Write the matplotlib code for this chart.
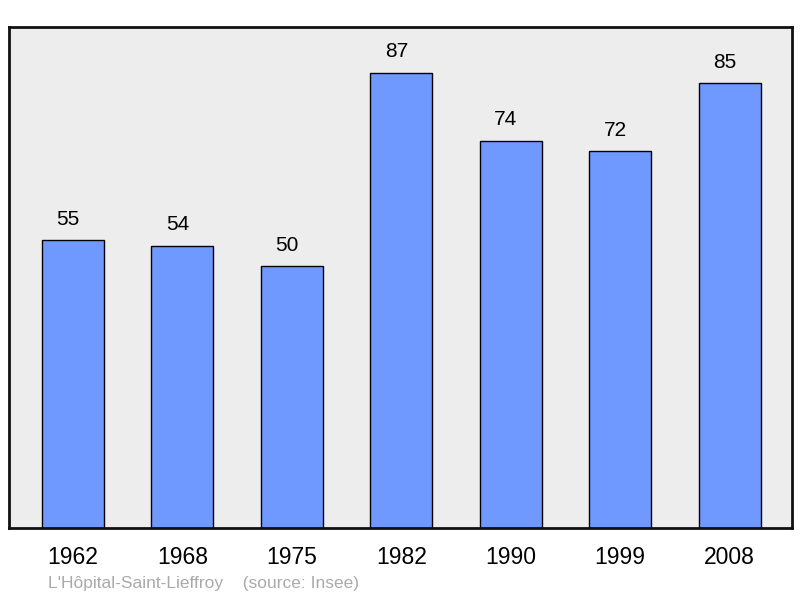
import numpy as np
import matplotlib
matplotlib.use("Agg")
import matplotlib.pyplot as plt

plt.rcParams['font.family'] = ['Liberation Sans', 'DejaVu Sans']

years = ['1962', '1968', '1975', '1982', '1990', '1999', '2008']
population = [55, 54, 50, 87, 74, 72, 85]
footer = "L'Hôpital-Saint-Lieffroy    (source: Insee)"

fig = plt.figure(figsize=(8, 5.98), dpi=100)
ax = fig.add_axes([0.01125, 0.117, 0.97875, 0.838])
ax.set_facecolor('#ededed')

xs = np.arange(len(years))
ax.bar(xs, population, width=0.567, color='#7099ff', edgecolor='black', linewidth=1.0, zorder=2)

# labels sit a bit left of bar centre in the original
for x, v in zip(xs, population):
    ax.annotate(str(v), (x, v), xytext=(-3.6, 8.5), textcoords='offset points',
                ha='center', va='bottom', fontsize=15, color='black')

ax.set_xlim(-0.585, 6.57)
ax.set_ylim(0, 95.8)
ax.set_xticks(xs)
ax.set_xticklabels(years, fontsize=16.5)
ax.tick_params(axis='x', length=0, pad=13)
ax.set_yticks([])
for s in ax.spines.values():
    s.set_linewidth(2)
    s.set_color('#111111')

fig.text(0.06, 0.012, footer, fontsize=12.5, color='#aaaaaa', ha='left', va='bottom')

plt.savefig('out.png', dpi=100)
